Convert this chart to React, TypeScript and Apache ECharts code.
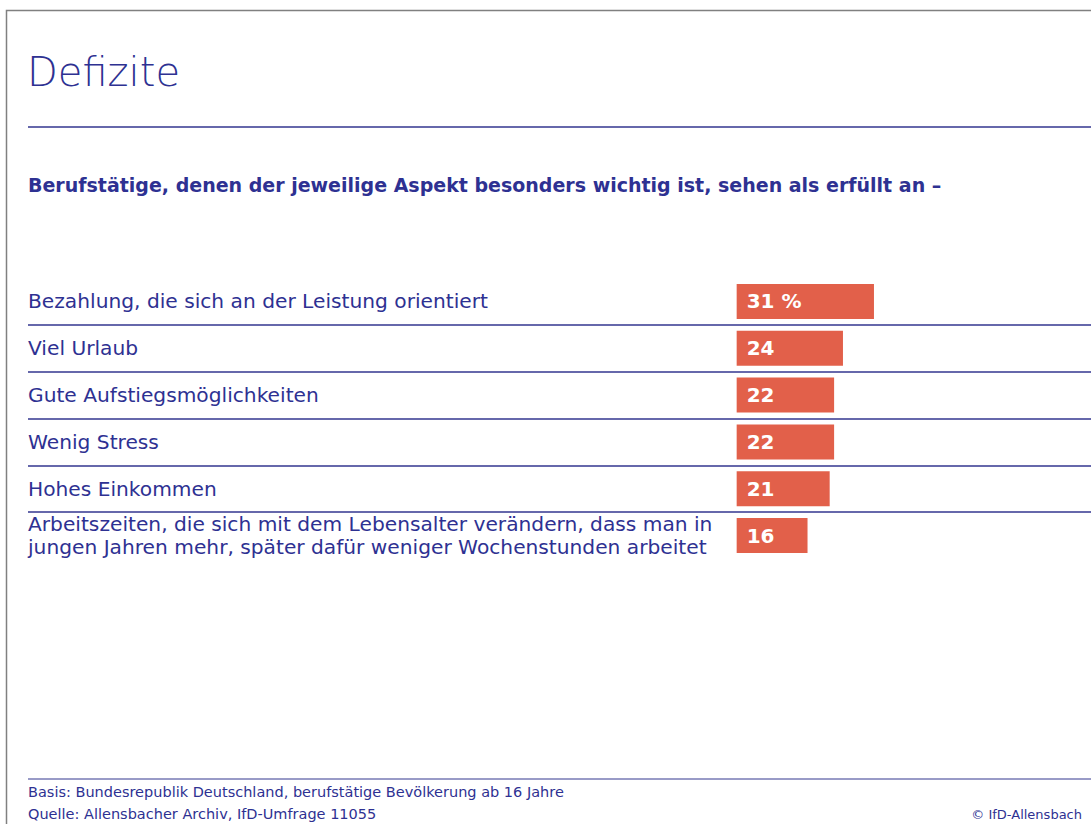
import React, { useEffect, useRef } from "react";
import * as echarts from "echarts";

const titleText = "Defizite";
const subtitleText =
  "Berufstätige, denen der jeweilige Aspekt besonders wichtig ist, sehen als erfüllt an –";
const categories = [
  "Bezahlung, die sich an der Leistung orientiert",
  "Viel Urlaub",
  "Gute Aufstiegsmöglichkeiten",
  "Wenig Stress",
  "Hohes Einkommen",
  "Arbeitszeiten, die sich mit dem Lebensalter verändern, dass man in\njungen Jahren mehr, später dafür weniger Wochenstunden arbeitet",
];
const values = [31, 24, 22, 22, 21, 16];
const footerLines = [
  "Basis: Bundesrepublik Deutschland, berufstätige Bevölkerung ab 16 Jahre",
  "Quelle: Allensbacher Archiv, IfD-Umfrage 11055",
];
const copyrightText = "© IfD-Allensbach";

const BLUE = "#2e3192";
const BAR = "#e2604a";
const FONT = "'DejaVu Sans', sans-serif";

export default function App() {
  const ref = useRef<HTMLDivElement>(null);
  useEffect(() => {
    if (!ref.current) return;
    const chart = echarts.init(ref.current, undefined, { renderer: "svg" });
    chart.setOption({
      animation: false,
      backgroundColor: "#ffffff",
      textStyle: { fontFamily: FONT },
      grid: { left: 28, right: 0, top: 278, height: 281, containLabel: false },
      xAxis: {
        type: "value",
        min: -160,
        max: 80,
        show: false,
      },
      yAxis: {
        type: "category",
        data: categories,
        inverse: true,
        axisLine: { show: false },
        axisTick: { show: false },
        axisLabel: {
          inside: true,
          margin: 0,
          color: BLUE,
          fontSize: 20.2,
          lineHeight: 23,
          fontFamily: FONT,
        },
        splitLine: {
          show: true,
          showMinLine: false,
          showMaxLine: false,
          lineStyle: { color: "#33368f", width: 1.5 },
        },
        z: 10,
      },
      series: [
        {
          type: "bar",
          data: values,
          barWidth: 35,
          itemStyle: { color: BAR },
          label: {
            show: true,
            position: "insideLeft",
            distance: 10,
            color: "#ffffff",
            fontWeight: "bold",
            fontSize: 20,
            fontFamily: FONT,
            formatter: (p: any) => (p.dataIndex === 0 ? `${p.value} %` : `${p.value}`),
          },
        },
      ],
      graphic: [
        {
          type: "rect",
          shape: { x: 6.5, y: 10.5, width: 2000, height: 2000 },
          style: { fill: "none", stroke: "#808080", lineWidth: 1.5 },
          silent: true,
        },
        {
          type: "text",
          x: 27,
          y: 72,
          style: {
            text: titleText,
            fill: BLUE,
            font: `300 40px ${FONT}`,
            verticalAlign: "middle",
          },
        },
        {
          type: "line",
          shape: { x1: 28, y1: 127, x2: 1091, y2: 127 },
          style: { stroke: "#33368f", lineWidth: 1.5 },
        },
        {
          type: "text",
          x: 28,
          y: 185,
          style: {
            text: subtitleText,
            fill: BLUE,
            font: `bold 19px ${FONT}`,
            verticalAlign: "middle",
          },
        },
        {
          type: "line",
          shape: { x1: 28, y1: 779, x2: 1091, y2: 779 },
          style: { stroke: "#33368f", lineWidth: 1 },
        },
        {
          type: "text",
          x: 28,
          y: 792,
          style: {
            text: footerLines[0],
            fill: BLUE,
            font: `14.5px ${FONT}`,
            verticalAlign: "middle",
          },
        },
        {
          type: "text",
          x: 28,
          y: 814,
          style: {
            text: footerLines[1],
            fill: BLUE,
            font: `14.5px ${FONT}`,
            verticalAlign: "middle",
          },
        },
        {
          type: "text",
          x: 1082,
          y: 814,
          style: {
            text: copyrightText,
            fill: BLUE,
            font: `13px ${FONT}`,
            align: "right",
            verticalAlign: "middle",
          },
        },
      ],
    });
    return () => chart.dispose();
  }, []);
  return (
    <div
      ref={ref}
      style={{ position: "absolute", left: 0, top: 0, width: 1091, height: 824 }}
    />
  );
}
